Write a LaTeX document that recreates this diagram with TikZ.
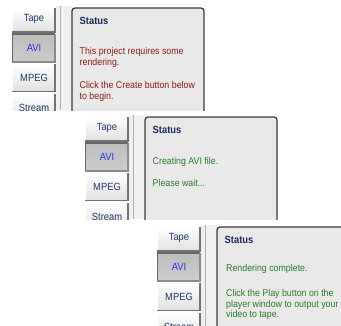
\documentclass[tikz,border=0pt]{standalone}
\usepackage{fontspec}
\newfontfamily\uifont[FakeStretch=0.9]{Liberation Sans}
\definecolor{boxfill}{HTML}{E8E9E8}
\definecolor{boxline}{HTML}{3A3A3A}
\definecolor{tabtext}{HTML}{24386B}
\definecolor{seltext}{HTML}{2F2FE6}
\definecolor{redtext}{HTML}{8E1C1C}
\definecolor{greentext}{HTML}{2E7A2E}
\definecolor{statustext}{HTML}{1C2C58}
\tikzset{
  tabbox/.style={top color=white, bottom color=black!12, draw=none},
  seltab/.style={top color=black!26, bottom color=black!20, draw=none},
  tablabel/.style={font=\uifont\fontsize{10.4}{12}\selectfont, text=tabtext, inner sep=0pt},
  sellabel/.style={tablabel, text=seltext},
  statusbox/.style={fill=boxfill, draw=boxline, line width=1.3pt, rounded corners=3pt},
  stitle/.style={font=\uifont\bfseries\fontsize{10.4}{12}\selectfont, text=statustext, anchor=base west, inner sep=0pt},
  msg/.style={font=\uifont\fontsize{9.8}{11}\selectfont, anchor=base west, inner sep=0pt},
}
% #1 prefix
\newcommand\uitabs[2]{%
  \fill[black!6] (44,-2) rectangle (60,102);
  \draw[black!30, line width=0.6pt] (48,-2) -- (48,102);
  % Tape
  \path[tabbox] (0,0) rectangle (43,24);
  \draw[white, line width=0.8pt] (0.4,24) -- (0.4,0.4) -- (43,0.4);
  \draw[black!55, line width=1.4pt] (0,24) -- (43,24) -- (43,0);
  \node[tablabel] (#1tape) at (22,10.5) {Tape};
  % AVI (selected)
  \path[seltab] (0,25.5) rectangle (43,54);
  \draw[black!60, line width=1.2pt] (0.4,54) -- (0.4,25.9) -- (43,25.9);
  \draw[black!45, line width=1.2pt] (0.4,54) -- (43,54) -- (43,25.5);
  \node[sellabel] (#1avi) at (22,40) {AVI};
  % MPEG
  \path[tabbox] (0,55.5) rectangle (43,83.5);
  \draw[white, line width=0.8pt] (0.4,83.5) -- (0.4,55.9) -- (43,55.9);
  \draw[black!55, line width=1.4pt] (0,83.5) -- (43,83.5) -- (43,55.5);
  \node[tablabel] (#1mpeg) at (22,70) {MPEG};
  % Stream
  \path[tabbox] (0,85.5) rectangle (43,114);
  \draw[white, line width=0.8pt] (0.4,114) -- (0.4,85.9) -- (43,85.9);
  \draw[black!55, line width=1.4pt] (43,85.5) -- (43,114);
  \node[tablabel] (#1stream) at (22,100) {Stream};
  % status box
  \path[statusbox] (60,110) -- (60,0) -- (192,0) -- (192,110);
  \node[stitle] (#1status) at (67.5,16.5) {Status};
}
\begin{document}
\begin{tikzpicture}[x=1pt,y=-1pt]
\useasboundingbox (0,0) rectangle (341,325);
\clip (0,0) rectangle (341,325);
% panel 1
\begin{scope}[shift={(12,8)}]
  \clip (-12,-8) rectangle (193,102);
  \uitabs{a}{}
  \begin{scope}[every node/.append style={msg, text=redtext}]
    \node (al1) at (67.5,46.5) {This project requires some};
    \node (al2) at (67.5,57.5) {rendering.};
    \node (al3) at (67.5,80.5) {Click the Create button below};
    \node (al4) at (67.5,91.5) {to begin.};
  \end{scope}
\end{scope}
% panel 2
\begin{scope}[shift={(85,117)}]
  \clip (-12,-8) rectangle (193,102);
  \uitabs{b}{}
  \begin{scope}[every node/.append style={msg, text=greentext}]
    \node (bl1) at (67.5,47.5) {Creating AVI file.};
    \node (bl2) at (67.5,69.5) {Please wait...};
  \end{scope}
\end{scope}
% panel 3
\begin{scope}[shift={(157,227)}]
  \clip (-12,-8) rectangle (193,102);
  \uitabs{c}{}
  \begin{scope}[every node/.append style={msg, text=greentext}]
    \node (cl1) at (69,44.5) {Rendering complete.};
    \node (cl2) at (69,69.5) {Click the Play button on the};
    \node (cl3) at (69,80) {player window to output your};
    \node (cl4) at (69,90.5) {video to tape.};
  \end{scope}
\end{scope}
\end{tikzpicture}
\end{document}
